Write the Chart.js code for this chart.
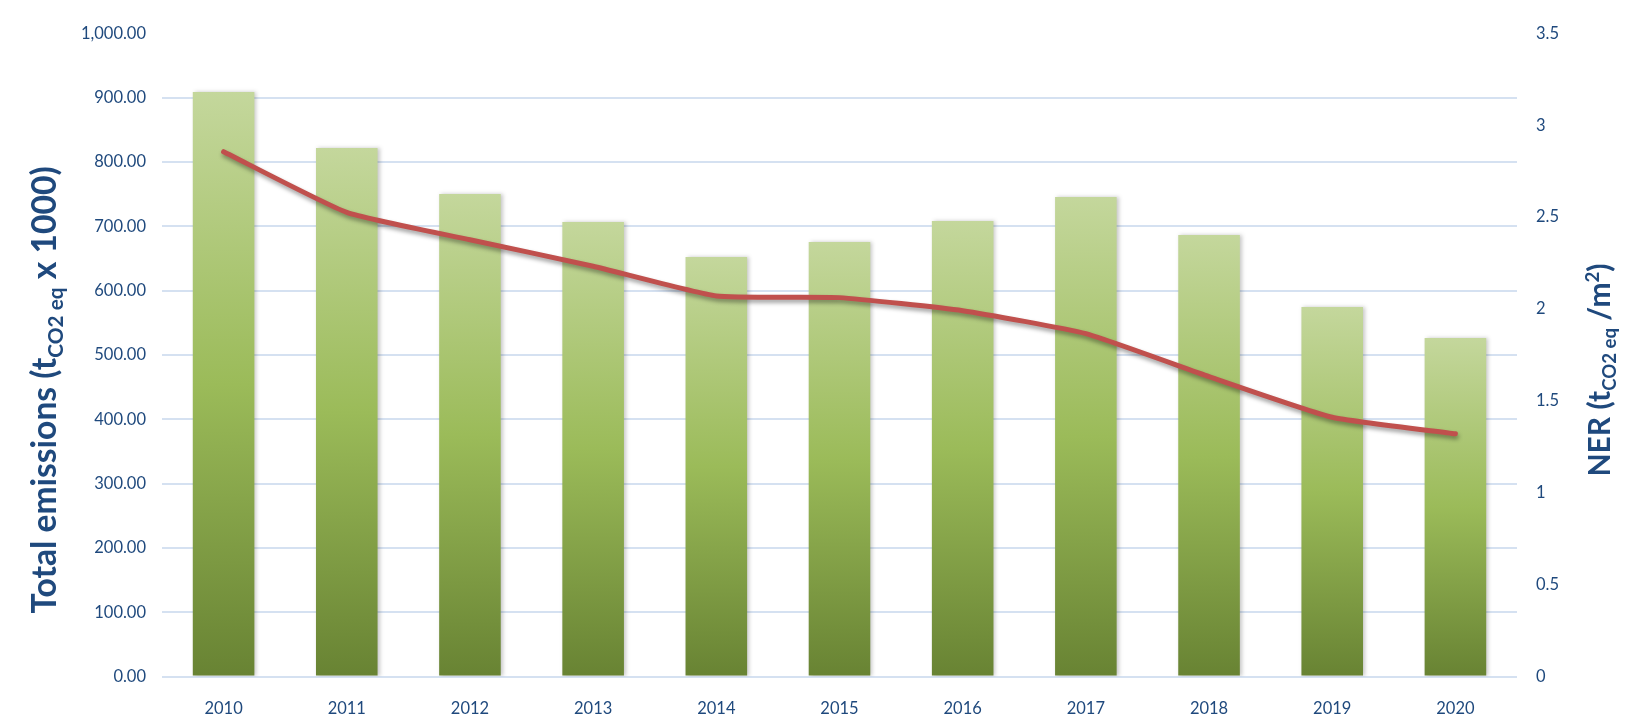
<!DOCTYPE html>
<html><head><meta charset="utf-8">
<script src="https://cdn.jsdelivr.net/npm/chart.js@4/dist/chart.umd.min.js"></script>
<style>html,body{margin:0;padding:0;background:#fff}#wrap{position:relative;width:1633px;height:726px}</style>
</head><body><div id="wrap"><canvas id="c"></canvas></div>
<script>
const years = ['2010','2011','2012','2013','2014','2015','2016','2017','2018','2019','2020'];
const totalEmissions = [908.9, 821.8, 750.3, 706.7, 652.3, 675.6, 708.3, 745.6, 686.5, 574.4, 526.4];
const nerValues = [2.856, 2.526, 2.377, 2.233, 2.071, 2.062, 1.991, 1.866, 1.632, 1.411, 1.321];
const leftTitleParts = [['Total emissions (t','n'],['CO2 eq','sub'],[' x 1000)','n']];
const rightTitleParts = [['NER (t','n'],['CO2 eq','sub'],[' /m','n'],['2','sup'],[')','n']];

const NAVY = '#1f497d';
const GRID = '#d5e1f1';
Chart.defaults.font.family = 'Lato';

function drawRich(ctx, x, y, parts, size){
  ctx.save();
  ctx.translate(x, y);
  ctx.rotate(-Math.PI/2);
  ctx.textAlign = 'left';
  ctx.textBaseline = 'alphabetic';
  ctx.fillStyle = NAVY;
  let total = 0;
  const ms = parts.map(p => {
    const s = p[1] === 'n' ? size : size * 0.62;
    ctx.font = 'bold ' + s + 'px Lato';
    const w = ctx.measureText(p[0]).width;
    total += w;
    return {s, w};
  });
  let cx = -total / 2;
  parts.forEach((p, i) => {
    ctx.font = 'bold ' + ms[i].s + 'px Lato';
    const dy = p[1] === 'sub' ? size * 0.2 : (p[1] === 'sup' ? -size * 0.38 : 0);
    ctx.fillText(p[0], cx, dy);
    cx += ms[i].w;
  });
  ctx.restore();
}

const decor = {
  id: 'decor',
  beforeDatasetDraw(chart, args){
    const c = chart.ctx;
    c.save();
    if (args.meta.type === 'line') {
      c.shadowColor = 'rgba(0,0,0,0.38)'; c.shadowBlur = 4; c.shadowOffsetX = 1; c.shadowOffsetY = 3;
    } else {
      c.shadowColor = 'rgba(0,0,0,0.22)'; c.shadowBlur = 4; c.shadowOffsetX = 2; c.shadowOffsetY = 0;
    }
  },
  afterDatasetDraw(chart){ chart.ctx.restore(); },
  afterDraw(chart){
    drawRich(chart.ctx, 56, 390, leftTitleParts, 33.6);
    drawRich(chart.ctx, 1610, 370, rightTitleParts, 30);
  }
};

function barFill(ctx){
  const chart = ctx.chart;
  if (!chart.chartArea || ctx.type !== 'data') return '#9bbb59';
  const ys = chart.scales.y;
  const top = ys.getPixelForValue(ctx.raw);
  const base = ys.getPixelForValue(0);
  const g = chart.ctx.createLinearGradient(0, top, 0, base);
  g.addColorStop(0, '#c4d79c');
  g.addColorStop(0.5, '#9bbb59');
  g.addColorStop(1, '#688333');
  return g;
}

new Chart(document.getElementById('c'), {
  data: {
    labels: years,
    datasets: [
      { type: 'line', data: nerValues, yAxisID: 'y1', order: 0,
        borderColor: '#c0504d', borderWidth: 5, tension: 0.15, pointRadius: 0,
        borderCapStyle: 'round', borderJoinStyle: 'round', fill: false },
      { type: 'bar', data: totalEmissions, yAxisID: 'y', order: 1,
        backgroundColor: barFill, borderWidth: 0, categoryPercentage: 1, barPercentage: 0.5 }
    ]
  },
  options: {
    responsive: true, maintainAspectRatio: false, animation: false,
    layout: { padding: { top: 33.4, left: 0, right: 0, bottom: 0 } },
    plugins: { legend: { display: false }, tooltip: { enabled: false } },
    scales: {
      x: {
        grid: { display: false }, border: { display: false },
        ticks: { color: NAVY, font: { size: 16.5 }, padding: 14 },
        afterFit(s){ s.height = 49.5; }
      },
      y: {
        position: 'left', min: 0, max: 1000,
        border: { display: false },
        grid: { color: c => (c.tick && c.tick.value === 1000) ? 'rgba(0,0,0,0)' : GRID, lineWidth: 2, drawTicks: false },
        ticks: { stepSize: 100, color: NAVY, font: { size: 16.5 }, padding: 16,
          callback: v => Number(v).toLocaleString('en-US', {minimumFractionDigits: 2, maximumFractionDigits: 2}) },
        afterFit(s){ s.width = 162; }
      },
      y1: {
        position: 'right', min: 0, max: 3.5,
        border: { display: false },
        grid: { display: false, drawTicks: false },
        ticks: { stepSize: 0.5, color: NAVY, font: { size: 16.5 }, padding: 19,
          callback: v => String(Math.round(v * 10) / 10) },
        afterFit(s){ s.width = 116; }
      }
    }
  },
  plugins: [decor]
});
</script>
</body></html>
